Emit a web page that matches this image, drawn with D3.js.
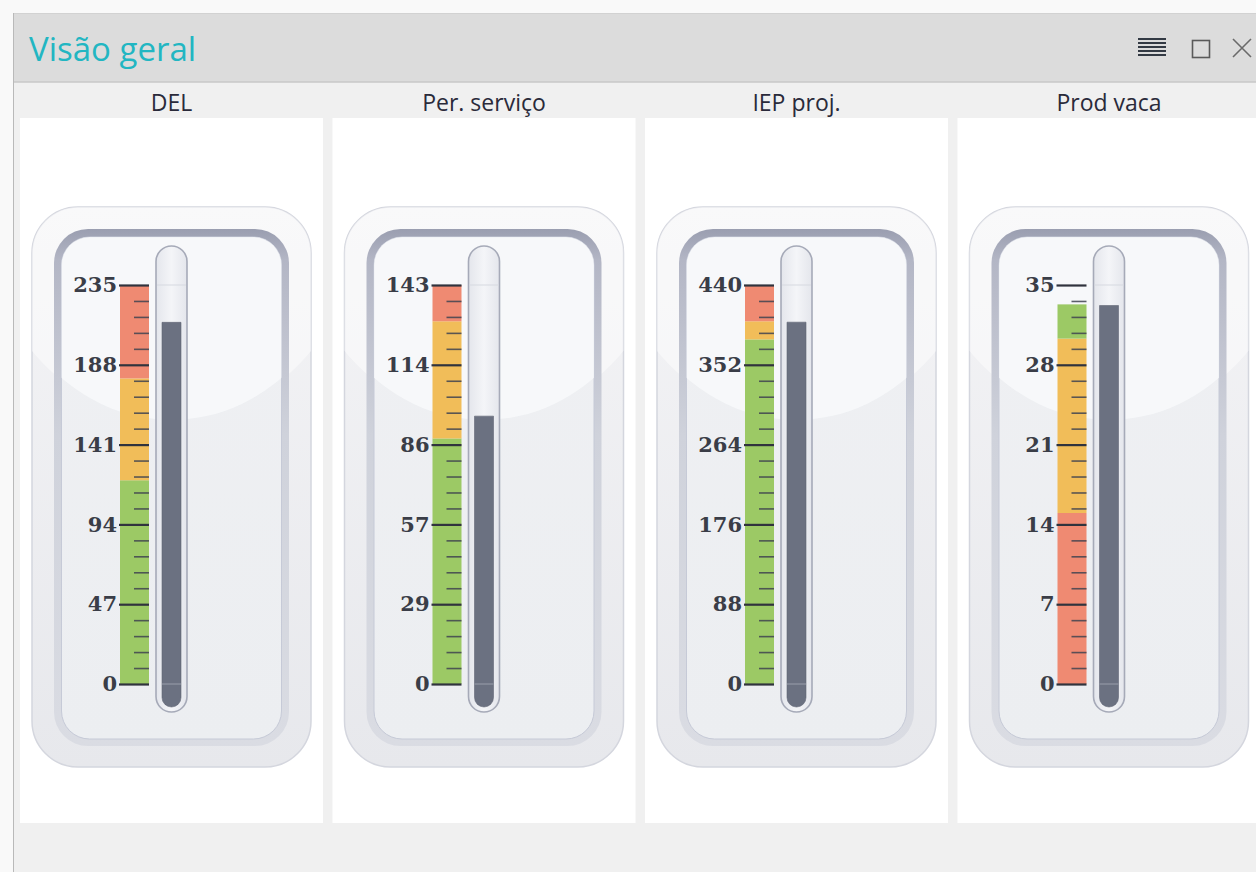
<!DOCTYPE html>
<html><head><meta charset="utf-8">
<script src="https://cdn.jsdelivr.net/npm/d3@7"></script>
<style>
html,body{margin:0;padding:0;background:#f7f7f7;overflow:hidden}
svg{display:block}
</style></head><body>
<svg id="chart" width="1256" height="872"></svg>
<script>
// Overview thermometers: one gauge per indicator
const gaugeTitles = ["DEL", "Per. serviço", "IEP proj.", "Prod vaca"];
const gaugeValues = [213, 96, 399, 33.2];
const scaleMax = [235, 143, 440, 35];
const tickLabels = [
  ["0", "47", "94", "141", "188", "235"],
  ["0", "29", "57", "86", "114", "143"],
  ["0", "88", "176", "264", "352", "440"],
  ["0", "7", "14", "21", "28", "35"]
];
// band boundaries (value units) and the level of each band from bottom to top
const bandStops = [
  [0, 120, 180, 235],
  [0, 88, 130, 143],
  [0, 380, 400, 440],
  [0, 15, 30.3, 33.3]
];
const bandLevels = [
  ["ok", "warn", "alert"],
  ["ok", "warn", "alert"],
  ["ok", "warn", "alert"],
  ["alert", "warn", "ok"]
];
const levelColor = { ok: "#9cc965", warn: "#f1bd59", alert: "#ef8a72" };

const svg = d3.select("#chart");
const W = 1256, H = 872;

// ---------- window chrome ----------
svg.append("rect").attr("x", 0).attr("y", 0).attr("width", W).attr("height", H).attr("fill", "#f9f9f9");
svg.append("rect").attr("x", 14).attr("y", 14).attr("width", W - 14).attr("height", H - 14).attr("fill", "#f0f0f0");
svg.append("rect").attr("x", 14).attr("y", 14).attr("width", W - 14).attr("height", 68).attr("fill", "#dcdcdc");
svg.append("line").attr("x1", 14).attr("x2", W).attr("y1", 13.5).attr("y2", 13.5).attr("stroke", "#d2d2d2");
svg.append("line").attr("x1", 14).attr("x2", W).attr("y1", 82).attr("y2", 82).attr("stroke", "#c9c9c9").attr("stroke-width", 1.5);
svg.append("line").attr("x1", 13.5).attr("x2", 13.5).attr("y1", 13).attr("y2", H).attr("stroke", "#b9b9b9");

svg.append("text").attr("x", 29).attr("y", 61)
  .attr("font-family", "'Open Sans', 'Noto Sans', sans-serif").attr("font-size", 33)
  .attr("fill", "#22b6c2").text("Visão geral");

// title-bar buttons
const menu = svg.append("g").attr("stroke", "#333a44").attr("stroke-width", 2);
d3.range(5).forEach(i => menu.append("line").attr("x1", 1138).attr("x2", 1166)
  .attr("y1", 39 + i * 4).attr("y2", 39 + i * 4));
svg.append("rect").attr("x", 1192.5).attr("y", 40.5).attr("width", 17).attr("height", 17)
  .attr("fill", "none").attr("stroke", "#5a5a5a").attr("stroke-width", 1.6);
svg.append("path").attr("d", "M1233,39 L1251,57 M1251,39 L1233,57")
  .attr("stroke", "#6a6a6a").attr("stroke-width", 1.6).attr("fill", "none");

// ---------- gradients ----------
const defs = svg.append("defs");
function vGrad(id, stops) {
  const g = defs.append("linearGradient").attr("id", id).attr("x1", 0).attr("y1", 0).attr("x2", 0).attr("y2", 1);
  stops.forEach(([o, c]) => g.append("stop").attr("offset", o).attr("stop-color", c));
}
vGrad("outerGrad", [[0, "#f4f4f6"], [1, "#e7e8ec"]]);
vGrad("bezelGrad", [[0, "#9a9eb0"], [0.06, "#b3b6c5"], [0.4, "#cfd2db"], [1, "#dadce3"]]);
vGrad("faceGrad", [[0, "#eff0f3"], [1, "#eceef1"]]);
const tg = defs.append("linearGradient").attr("id", "tubeGrad").attr("x1", 0).attr("x2", 1).attr("y1", 0).attr("y2", 0);
[[0, "#e4e6ec"], [0.5, "#f4f5f8"], [1, "#e4e6ec"]].forEach(([o, c]) => tg.append("stop").attr("offset", o).attr("stop-color", c));

// ---------- layout ----------
const panelW = 303, panelStep = 312.5, panelX0 = 20;
const panelTop = 118, panelBottom = 823;
const yZero = 684, yTop = 285;

gaugeTitles.forEach((title, i) => {
  const px = panelX0 + i * panelStep;
  const cx = px + panelW / 2;

  svg.append("text").attr("x", cx).attr("y", 111).attr("text-anchor", "middle")
    .attr("font-family", "'Open Sans', 'Noto Sans', sans-serif").attr("font-size", 23)
    .attr("fill", "#2a2a3a").text(title);

  svg.append("rect").attr("x", px).attr("y", panelTop).attr("width", panelW)
    .attr("height", panelBottom - panelTop).attr("fill", "#ffffff");

  const g = svg.append("g");

  // outer body
  const outer = { x: cx - 139.5, y: 207, w: 279, h: 560, r: 46 };
  defs.append("clipPath").attr("id", "clipOuter" + i).append("rect")
    .attr("x", outer.x).attr("y", outer.y).attr("width", outer.w).attr("height", outer.h).attr("rx", outer.r);
  g.append("rect").attr("x", outer.x).attr("y", outer.y).attr("width", outer.w).attr("height", outer.h)
    .attr("rx", outer.r).attr("fill", "url(#outerGrad)").attr("stroke", "#d4d6de").attr("stroke-width", 1.5);
  g.append("ellipse").attr("clip-path", `url(#clipOuter${i})`)
    .attr("cx", cx).attr("cy", 205).attr("rx", 190).attr("ry", 215)
    .attr("fill", "#ffffff").attr("opacity", 0.45);

  // bezel ring
  g.append("rect").attr("x", cx - 117.5).attr("y", 229).attr("width", 235).attr("height", 517)
    .attr("rx", 34).attr("fill", "url(#bezelGrad)");

  // face
  const face = { x: cx - 110, y: 237, w: 220, h: 502, r: 28 };
  defs.append("clipPath").attr("id", "clipFace" + i).append("rect")
    .attr("x", face.x).attr("y", face.y).attr("width", face.w).attr("height", face.h).attr("rx", face.r);
  g.append("rect").attr("x", face.x).attr("y", face.y).attr("width", face.w).attr("height", face.h)
    .attr("rx", face.r).attr("fill", "url(#faceGrad)").attr("stroke", "#c6cad7").attr("stroke-width", 1);
  g.append("ellipse").attr("clip-path", `url(#clipFace${i})`)
    .attr("cx", cx).attr("cy", 205).attr("rx", 185).attr("ry", 215)
    .attr("fill", "#fafbfc").attr("opacity", 0.75);

  // value scale
  const y = d3.scaleLinear().domain([0, scaleMax[i]]).range([yZero, yTop]);
  const bandX = cx - 51.5, bandW = 29, scaleRight = cx - 22.5;

  const stops = bandStops[i];
  bandLevels[i].forEach((lvl, k) => {
    g.append("rect").attr("x", bandX).attr("width", bandW)
      .attr("y", y(stops[k + 1])).attr("height", y(stops[k]) - y(stops[k + 1]))
      .attr("fill", levelColor[lvl]);
  });

  const majorVals = d3.range(6).map(k => scaleMax[i] * k / 5);
  const minorVals = d3.range(26).map(k => scaleMax[i] * k / 25).filter((v, k) => k % 5 !== 0);

  const minorAxis = d3.axisLeft(y).tickValues(minorVals).tickSize(15).tickFormat("");
  const minorG = g.append("g").attr("transform", `translate(${scaleRight},0)`).call(minorAxis);
  minorG.select(".domain").remove();
  minorG.selectAll(".tick line").attr("stroke", "#3f4350").attr("stroke-width", 1.6).attr("opacity", 0.85);

  const majorAxis = d3.axisLeft(y).tickValues(majorVals).tickSize(30).tickPadding(2)
    .tickFormat((d, k) => tickLabels[i][k]);
  const majorG = g.append("g").attr("transform", `translate(${scaleRight},0)`).call(majorAxis);
  majorG.select(".domain").remove();
  majorG.selectAll(".tick line").attr("stroke", "#30333d").attr("stroke-width", 2.2);
  majorG.selectAll(".tick text")
    .attr("font-family", "'DejaVu Serif', serif").attr("font-weight", "bold")
    .attr("font-size", 21).attr("fill", "#3a3d47");

  // thermometer tube
  const tubeTop = 246, tubeBottom = 712, tubeR = 15.5;
  g.append("rect").attr("x", cx - tubeR).attr("y", tubeTop).attr("width", tubeR * 2)
    .attr("height", tubeBottom - tubeTop).attr("rx", tubeR)
    .attr("fill", "url(#tubeGrad)").attr("stroke", "#a6aab8").attr("stroke-width", 1.6);
  g.append("line").attr("x1", cx - tubeR + 1).attr("x2", cx + tubeR - 1)
    .attr("y1", yTop).attr("y2", yTop).attr("stroke", "#d6d9e0").attr("stroke-width", 1);

  // value column
  const barR = 9.5, barBottom = 707, yv = y(gaugeValues[i]);
  g.append("path")
    .attr("d", `M${cx - barR},${yv} H${cx + barR} V${barBottom - barR} A${barR},${barR} 0 0 1 ${cx - barR},${barBottom - barR} Z`)
    .attr("fill", "#6b7181").attr("stroke", "#5f6574").attr("stroke-width", 0.6);
  g.append("line").attr("x1", cx - barR).attr("x2", cx + barR)
    .attr("y1", yZero).attr("y2", yZero).attr("stroke", "#9a9fab").attr("stroke-width", 1);
});
</script>
</body></html>
